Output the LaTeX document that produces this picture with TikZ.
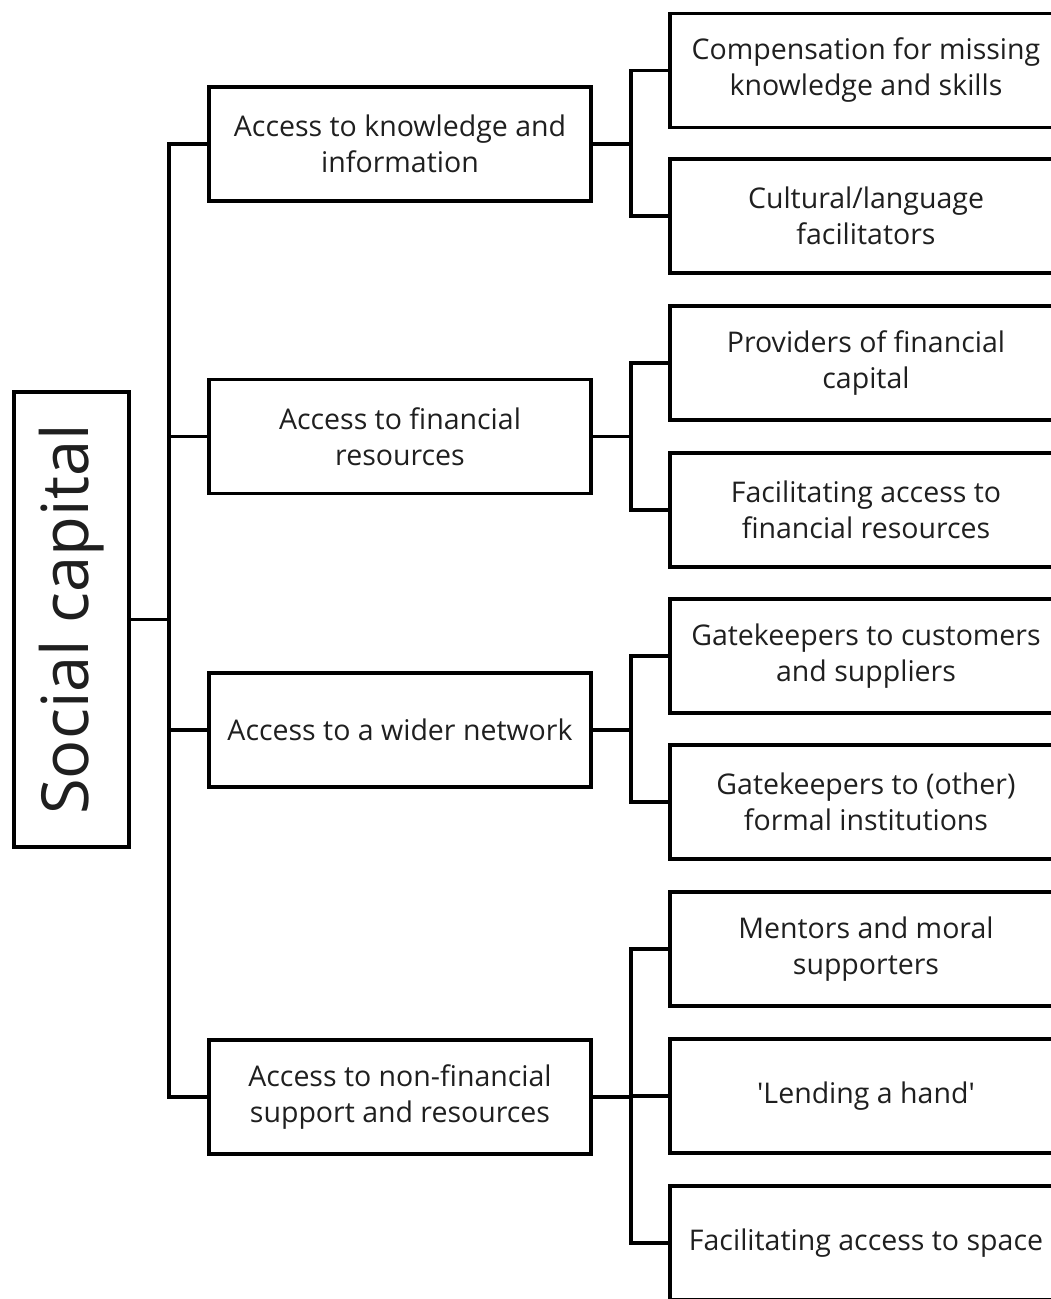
\documentclass[tikz,border=0pt]{standalone}
\usepackage{fontspec}
\setmainfont{Open Sans}[Ligatures=TeXOff]
\begin{document}
\begin{tikzpicture}[x=1pt,y=-1pt,
  line width=3.6pt,
  boxa/.style={draw,rectangle,minimum width=382pt,minimum height=114pt,align=center,inner sep=0pt,font=\fontsize{28.5}{36}\selectfont,text=black!88},
  boxb/.style={draw,rectangle,minimum width=392pt,minimum height=114pt,align=center,inner sep=0pt,font=\fontsize{28.5}{36}\selectfont,text=black!88},
  link/.style={draw,line width=3.6pt,line cap=rect}]
\useasboundingbox (0,0) rectangle (1051,1299);
\node[draw,rectangle,minimum width=115pt,minimum height=455pt,inner sep=0pt] (root) at (71.5,619.5) {};
\node[rotate=90,font=\fontsize{65}{70}\selectfont,text=black!88] (rootlabel) at (root.center) {Social capital};

\node[boxa] (a1) at (400,144) {Access to knowledge and\\information};
\node[boxa] (a2) at (400,436.5) {Access to financial\\resources};
\node[boxa] (a3) at (400,730) {Access to a wider network};
\node[boxa] (a4) at (400,1097) {Access to non-financial\\support and resources};

\node[boxb] (b1) at (866,70.5) {Compensation for missing\\knowledge and skills};
\node[boxb] (b2) at (866,216) {Cultural/language\\facilitators};
\node[boxb] (b3) at (866,363) {Providers of financial\\capital};
\node[boxb] (b4) at (866,510) {Facilitating access to\\financial resources};
\node[boxb] (b5) at (866,656) {Gatekeepers to customers\\and suppliers};
\node[boxb] (b6) at (866,802) {Gatekeepers to (other)\\formal institutions};
\node[boxb] (b7) at (866,949) {Mentors and moral\\supporters};
\node[boxb] (b8) at (866,1096) {'Lending a hand'};
\node[boxb] (b9) at (866,1243) {Facilitating access to space};

\coordinate (tk) at (169,0);
\coordinate (jk) at (631,0);

\draw[link] (root.east) -- (root.east -| tk);
\draw[link] (a1.west) -- (a1.west -| tk) -- (a4.west -| tk) -- (a4.west);
\draw[link] (a2.west) -- (a2.west -| tk);
\draw[link] (a3.west) -- (a3.west -| tk);

\draw[link] (a1.east) -- (a1.east -| jk);
\draw[link] (b1.west) -- (b1.west -| jk) -- (b2.west -| jk) -- (b2.west);
\draw[link] (a2.east) -- (a2.east -| jk);
\draw[link] (b3.west) -- (b3.west -| jk) -- (b4.west -| jk) -- (b4.west);
\draw[link] (a3.east) -- (a3.east -| jk);
\draw[link] (b5.west) -- (b5.west -| jk) -- (b6.west -| jk) -- (b6.west);
\draw[link] (a4.east) -- (a4.east -| jk);
\draw[link] (b7.west) -- (b7.west -| jk) -- (b9.west -| jk) -- (b9.west);
\draw[link] (b8.west) -- (b8.west -| jk);
\end{tikzpicture}
\end{document}
